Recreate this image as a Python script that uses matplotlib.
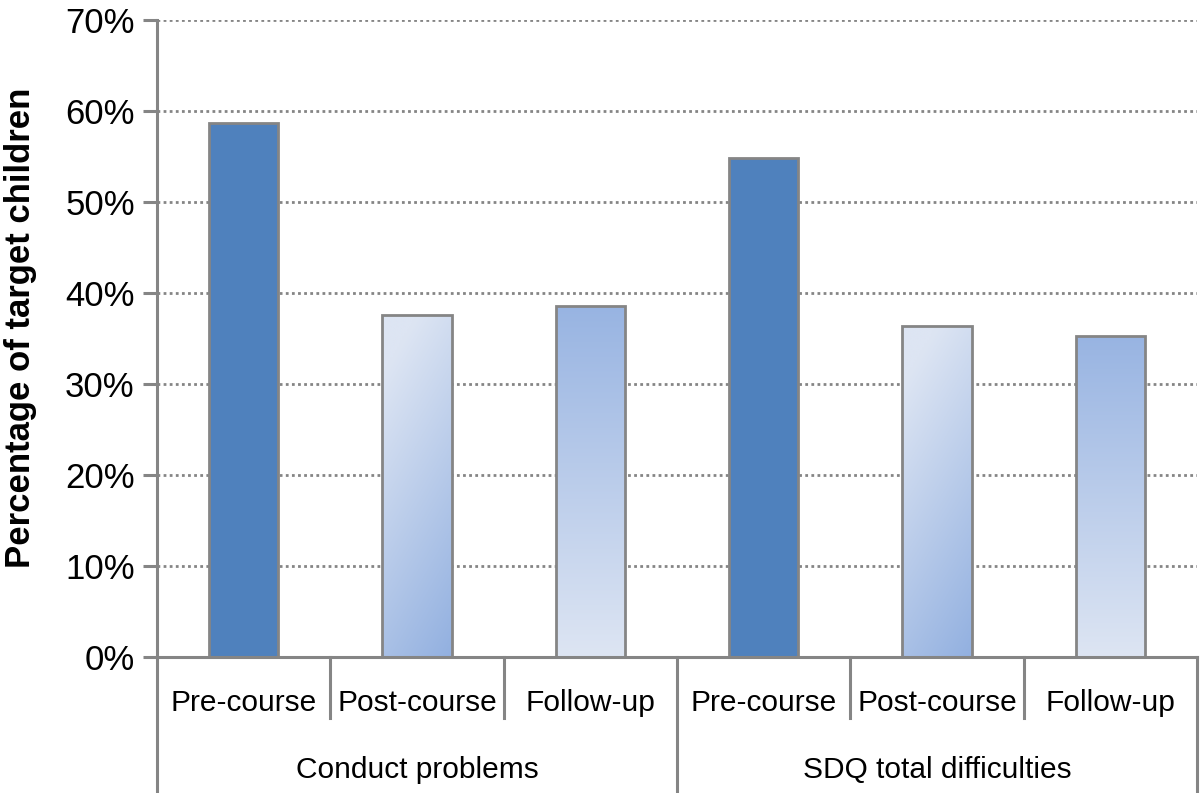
import matplotlib.pyplot as plt
import matplotlib.transforms as mtransforms
from matplotlib.colors import to_rgb
import numpy as np

plt.rcParams['font.family'] = ['Liberation Sans', 'DejaVu Sans']

# data
groups = ['Conduct problems', 'SDQ total difficulties']
stages = ['Pre-course', 'Post-course', 'Follow-up']
conduct = [58.7, 37.6, 38.6]
sdq = [54.8, 36.4, 35.3]
values = conduct + sdq
yticks = [0, 10, 20, 30, 40, 50, 60, 70]

grey = '#858585'

fig = plt.figure(figsize=(12, 7.93), dpi=100)
ax = fig.add_axes([0.1308, 0.1715, 0.8667, 0.8033])

x = np.arange(len(values))
bars = ax.bar(x, values, width=0.40, color='#4F81BD', edgecolor=grey,
              linewidth=2, zorder=3)

# gradient fills for post-course and follow-up bars
def diag_grad(c_light, c_dark):
    yy, xx = np.mgrid[0:1:100j, 0:1:100j]  # row 0 = bottom
    d = np.clip(0.85 * (1 - yy) + 0.3 * xx - 0.15, 0, 1)
    c1 = np.array(to_rgb(c_light))
    c2 = np.array(to_rgb(c_dark))
    return c1 + (c2 - c1) * d[..., None]

def vert_grad(c_top, c_bot):
    yy = np.linspace(0, 1, 100)[:, None] * np.ones((1, 10))
    c1 = np.array(to_rgb(c_bot))
    c2 = np.array(to_rgb(c_top))
    return c1 + (c2 - c1) * yy[..., None]

for i, b in enumerate(bars):
    stage = i % 3
    if stage == 0:
        continue
    if stage == 1:
        img = diag_grad('#DDE5F3', '#92B0E0')
    else:
        img = vert_grad('#98B4E2', '#DDE5F3')
    x0, w, h = b.get_x(), b.get_width(), b.get_height()
    b.set_facecolor('none')
    im = ax.imshow(img, extent=[x0, x0 + w, 0, h], origin='lower',
                   aspect='auto', zorder=2.9, interpolation='bilinear')
    im.set_clip_path(b)

ax.set_xlim(-0.5, len(values) - 0.5)
ax.set_ylim(0, 70)
ax.set_yticks(yticks)
ax.set_yticklabels([f'{t}%' for t in yticks], fontsize=25)
ax.yaxis.grid(True, linestyle=(0, (1, 1.2)), color=grey, linewidth=2, zorder=0)
ax.set_xticks([])

for s in ['top', 'right']:
    ax.spines[s].set_visible(False)
ax.spines['left'].set_color(grey)
ax.spines['left'].set_linewidth(2.2)
ax.spines['bottom'].set_visible(False)
ax.tick_params(axis='y', direction='out', length=10, width=2.2, color=grey, pad=6)

ax.set_ylabel('Percentage of target children', fontsize=25, fontweight='bold')
ax.yaxis.set_label_coords(-0.115, 0.516)

# multi-level category axis
trans = mtransforms.blended_transform_factory(ax.transData, ax.transAxes)
ax.plot([-0.5, len(values) - 0.5], [0, 0], color=grey, lw=2.2,
        transform=trans, clip_on=False, zorder=4)
for k in range(len(values) + 1):
    xe = k - 0.5
    y_end = -0.215 if k % 3 == 0 else -0.096
    ax.plot([xe, xe], [0, y_end], color=grey, lw=2.2, transform=trans,
            clip_on=False)
for i in range(len(values)):
    ax.text(i, -0.072, stages[i % 3], transform=trans, ha='center',
            va='center', fontsize=21.5)
for g, name in enumerate(groups):
    ax.text(g * 3 + 1, -0.177, name, transform=trans, ha='center',
            va='center', fontsize=21.5)

fig.savefig('out.png', dpi=100)
